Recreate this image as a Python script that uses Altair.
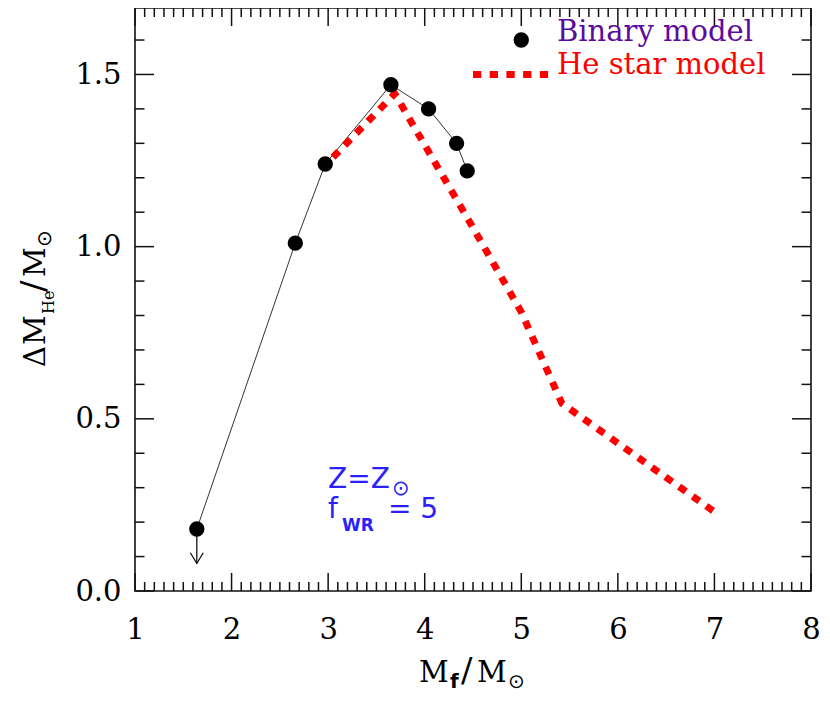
import altair as alt
import pandas as pd

# ---------------- data ----------------
binary_x = [1.64, 2.66, 2.97, 3.65, 4.04, 4.33, 4.44]
binary_y = [0.18, 1.01, 1.24, 1.47, 1.40, 1.30, 1.22]

hestar_x = [2.93, 3.69, 4.00, 4.50, 5.00, 5.42, 7.00]
hestar_y = [1.225, 1.444, 1.295, 1.055, 0.81, 0.545, 0.23]

# upper-limit arrow on the first binary point
arrow_x = [1.64]
arrow_top = [0.18]
arrow_tip = [0.08]
arrowhead_x = [1.573, 1.64, 1.707]
arrowhead_y = [0.111, 0.08, 0.111]

# legend sample positions (data units)
legend_dot_x = [5.0]
legend_dot_y = [1.6]
legend_line_x = [4.50, 5.28]
legend_line_y = [1.5, 1.5]

x_major = [1, 2, 3, 4, 5, 6, 7, 8]
x_minor = [round(1 + 0.1 * i, 1) for i in range(71) if i % 10 != 0]
y_major = [0.0, 0.5, 1.0, 1.5]
y_minor = [round(0.1 * i, 1) for i in range(1, 17) if i % 5 != 0]

SERIF = "DejaVu Serif"
SANS = "DejaVu Sans"
RED = "#ff0000"
PURPLE = "#5b0b9e"
BLUE = "#2b1fff"

W, H = 676, 583

xscale = alt.Scale(domain=[1, 8], nice=False, zero=False)
yscale = alt.Scale(domain=[0, 1.693], nice=False, zero=False)
xaxis = alt.Axis(values=x_major, format="d", labelFont=SERIF, labelFontSize=29,
                 labelColor="black", ticks=False, domain=False, grid=False,
                 labelPadding=24, labelFlush=False, title=None)
yaxis = alt.Axis(values=y_major, format=".1f", labelFont=SERIF, labelFontSize=29,
                 labelColor="black", ticks=False, domain=False, grid=False,
                 labelPadding=14, labelFlush=False, title=None)


def X(f):
    return alt.X(f, type="quantitative", scale=xscale, axis=xaxis)


def Y(f):
    return alt.Y(f, type="quantitative", scale=yscale, axis=yaxis)


layers = []

# ---------------- inward ticks on all four sides ----------------
TICK = dict(color="#111", strokeWidth=1.5)
for vals, ln in ((x_major, 18), (x_minor, 9)):
    d = pd.DataFrame({"v": vals})
    layers.append(alt.Chart(d).mark_rule(**TICK).encode(
        x=X("v"), y=alt.value(H), y2=alt.value(H - ln)))
    layers.append(alt.Chart(d).mark_rule(**TICK).encode(
        x=X("v"), y=alt.value(0), y2=alt.value(ln)))
for vals, ln in ((y_major, 19), (y_minor, 9.5)):
    d = pd.DataFrame({"v": vals})
    layers.append(alt.Chart(d).mark_rule(**TICK).encode(
        y=Y("v"), x=alt.value(0), x2=alt.value(ln)))
    layers.append(alt.Chart(d).mark_rule(**TICK).encode(
        y=Y("v"), x=alt.value(W), x2=alt.value(W - ln)))

# ---------------- data layers ----------------
bin_df = pd.DataFrame({"x": binary_x, "y": binary_y})
he_df = pd.DataFrame({"x": hestar_x, "y": hestar_y})

layers.append(alt.Chart(bin_df).mark_line(color="#333", strokeWidth=1).encode(
    x=X("x"), y=Y("y")))
layers.append(alt.Chart(he_df).mark_line(color=RED, strokeWidth=7,
                                         strokeDash=[8.3, 8.4], strokeCap="butt").encode(
    x=X("x"), y=Y("y")))

arr_df = pd.DataFrame({"x": arrow_x, "y": arrow_top, "y2": arrow_tip})
layers.append(alt.Chart(arr_df).mark_rule(color="black", strokeWidth=1.2).encode(
    x=X("x"), y=Y("y"), y2=alt.Y2("y2")))
ah_df = pd.DataFrame({"x": arrowhead_x, "y": arrowhead_y})
layers.append(alt.Chart(ah_df).mark_line(color="black", strokeWidth=1.2).encode(
    x=X("x"), y=Y("y")))

layers.append(alt.Chart(bin_df).mark_circle(color="black", opacity=1, size=235).encode(
    x=X("x"), y=Y("y")))

# ---------------- legend ----------------
ld_df = pd.DataFrame({"x": legend_dot_x, "y": legend_dot_y})
layers.append(alt.Chart(ld_df).mark_circle(color="black", opacity=1, size=235).encode(
    x=X("x"), y=Y("y")))
ll_df = pd.DataFrame({"x": legend_line_x, "y": legend_line_y})
layers.append(alt.Chart(ll_df).mark_line(color=RED, strokeWidth=7,
                                         strokeDash=[8.3, 8.4], strokeCap="butt").encode(
    x=X("x"), y=Y("y")))

one = pd.DataFrame({"a": [0]})


def piece(txt, px, py, size, font=SERIF, color="black", weight="normal",
          angle=0, baseline="alphabetic"):
    return alt.Chart(one).mark_text(
        text=txt, font=font, fontSize=size, fontWeight=weight, color=color,
        align="left", baseline=baseline, angle=angle).encode(
        x=alt.value(px), y=alt.value(py))


layers.append(piece("Binary model", 422, 33, 29, color=PURPLE))
layers.append(piece("He star model", 422, 66, 29, color=RED))

# ---------------- in-plot annotation ----------------
layers.append(piece("Z=Z", 193, 480, 28, font=SANS, color=BLUE))
layers.append(piece("\u2299", 257, 481, 21, font=SANS, color=BLUE, baseline="middle"))
layers.append(piece("f", 193, 510, 28, font=SANS, color=BLUE))
layers.append(piece("WR", 207, 523, 17, font=SANS, color=BLUE, weight="bold"))
layers.append(piece("=  5", 253, 510, 28, font=SANS, color=BLUE))

# ---------------- x title: M_f / M_sun ----------------
layers.append(piece("M", 284, 674, 29))
layers.append(piece("f", 315, 680, 20, font=SANS, weight="bold"))
layers.append(piece("/", 326, 674, 34))
layers.append(piece("M", 342, 674, 29))
layers.append(piece("\u2299", 373, 674, 20, font=SANS, baseline="middle"))

# ---------------- y title: Delta M_He / M_sun (rotated) ----------------
layers.append(piece("\u0394", -90, 359, 29, angle=270))
layers.append(piece("M", -90, 337, 29, angle=270))
layers.append(piece("He", -81, 306, 16, angle=270))
layers.append(piece("/", -90, 284, 34, angle=270))
layers.append(piece("M", -90, 269, 29, angle=270))
layers.append(piece("\u2299", -90.5, 239, 20, font=SANS, angle=270, baseline="middle"))

chart = alt.layer(*layers).properties(
    width=W, height=H,
    padding={"left": 127, "top": 0, "right": 11, "bottom": 106},
    autosize=alt.AutoSizeParams(type="none"),
).configure_view(stroke="#111", strokeWidth=1.6)

chart.save("out.html", embed_options={"renderer": "svg", "actions": False})
